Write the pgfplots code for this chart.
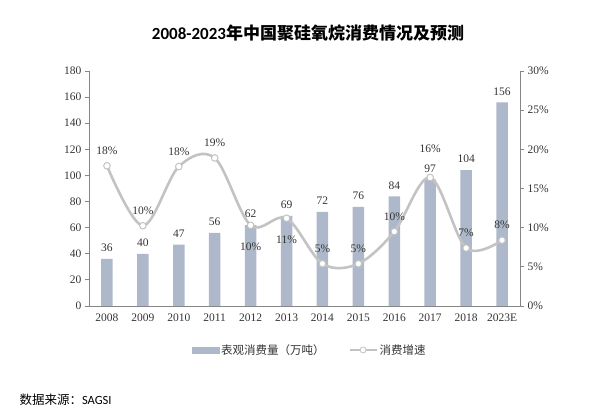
\documentclass[border=0pt]{standalone}
\usepackage{pgfplots}
\pgfplotsset{compat=1.18}
\usepackage{fontspec}
\setmainfont{Liberation Serif}
\newfontfamily\cjk{Noto Sans CJK SC}
\newfontfamily\cali{Carlito}
\definecolor{barc}{HTML}{ADB9CA}
\definecolor{linec}{HTML}{C3C3C3}
\definecolor{axc}{HTML}{868686}
\definecolor{txt}{HTML}{333333}
\begin{document}
\begin{tikzpicture}[x=1pt,y=1pt]
\useasboundingbox (-89,-103) rectangle (511,306);
\begin{axis}[
  scale only axis, width=431pt, height=235pt, at={(0,0)}, anchor=south west,
  xmin=-0.5, xmax=11.5, ymin=0, ymax=180,
  axis y line*=left, axis x line*=bottom,
  axis line style={axc, line width=0.8pt, -},
  xtick={0,...,11},
  xticklabels={2008,2009,2010,2011,2012,2013,2014,2015,2016,2017,2018,2023E},
  major x tick style={draw=none},
  ytick={0,20,...,180},
  tick align=outside, major tick length=4pt,
  y tick style={axc, line width=0.8pt},
  tick label style={font=\fontsize{11.5}{12}\selectfont, text=txt},
  /pgf/number format/assume math mode=true,
  ybar, bar width=0.32,
  nodes near coords,
  every node near coord/.append style={font=\fontsize{11.5}{12}\selectfont, text=txt, anchor=center, yshift=11pt},
]
\addplot[fill=barc, draw=none] coordinates {
(0,36) (1,40) (2,47) (3,56) (4,62) (5,69) (6,72) (7,76) (8,84) (9,97) (10,104) (11,156)};
\end{axis}
\begin{axis}[
  scale only axis, width=431pt, height=235pt, at={(0,0)}, anchor=south west,
  xmin=-0.5, xmax=11.5, ymin=0, ymax=30,
  axis y line*=right, axis x line=none,
  axis line style={axc, line width=0.8pt, -},
  ytick={0,5,...,30},
  yticklabel={\pgfmathprintnumber{\tick}\%},
  tick align=outside, major tick length=4pt,
  y tick style={axc, line width=0.8pt},
  tick label style={font=\fontsize{11.5}{12}\selectfont, text=txt},
  /pgf/number format/assume math mode=true,
  legend columns=2,
  legend style={at={(0.512,-0.187)}, anchor=center, draw=none, fill=none,
    font=\cjk\fontsize{11.5}{12}\selectfont, text=txt,
    /tikz/every even column/.append style={column sep=22pt}},
]
\addlegendimage{legend image code/.code={\fill[barc] (0pt,-3pt) rectangle (27pt,3pt);}}
\addlegendentry{表观消费量（万吨）}
\addplot[linec, line width=2.6pt, smooth, tension=0.55, mark=*, mark size=3.3pt,
  mark options={fill=white, draw=linec, line width=1pt},
  legend image code/.code={\draw[linec, line width=2pt] (0pt,0pt)--(27pt,0pt);
    \draw[linec, fill=white, line width=0.8pt] (13.5pt,0pt) circle (3pt);}]
coordinates {(0,17.9) (1,10.25) (2,17.8) (3,18.9) (4,10.3) (5,11.2) (6,5.4) (7,5.4) (8,9.5) (9,16.4) (10,7.4) (11,8.4)};
\addlegendentry{消费增速}
\addplot[draw=none, mark=none, forget plot, nodes near coords, point meta=explicit symbolic,
  every node near coord/.append style={font=\fontsize{11.5}{12}\selectfont, text=txt, anchor=center, yshift=15pt}]
coordinates {(0,17.9)[18\%] (1,10.25)[10\%] (2,17.8)[18\%] (3,18.9)[19\%] (6,5.4)[5\%] (7,5.4)[5\%] (8,9.5)[10\%] (10,7.4)[7\%] (11,8.4)[8\%]};
\addplot[draw=none, mark=none, forget plot, nodes near coords, point meta=explicit symbolic,
  every node near coord/.append style={font=\fontsize{11.5}{12}\selectfont, text=txt, anchor=center, yshift=29pt}]
coordinates {(9,16.4)[16\%]};
\addplot[draw=none, mark=none, forget plot, nodes near coords, point meta=explicit symbolic,
  every node near coord/.append style={font=\fontsize{11.5}{12}\selectfont, text=txt, anchor=center, yshift=-21pt}]
coordinates {(4,10.3)[10\%] (5,11.2)[11\%]};
\end{axis}
\node[font=\bfseries\fontsize{17}{17}\selectfont, text=black] at (219,273) {{\cali 2008-2023}{\cjk 年中国聚硅氧烷消费情况及预测}};
\node[anchor=west, font=\cjk\fontsize{12.5}{13}\selectfont, text=black] at (-73,-94) {数据来源：{\cali SAGSI}};
\end{tikzpicture}
\end{document}
